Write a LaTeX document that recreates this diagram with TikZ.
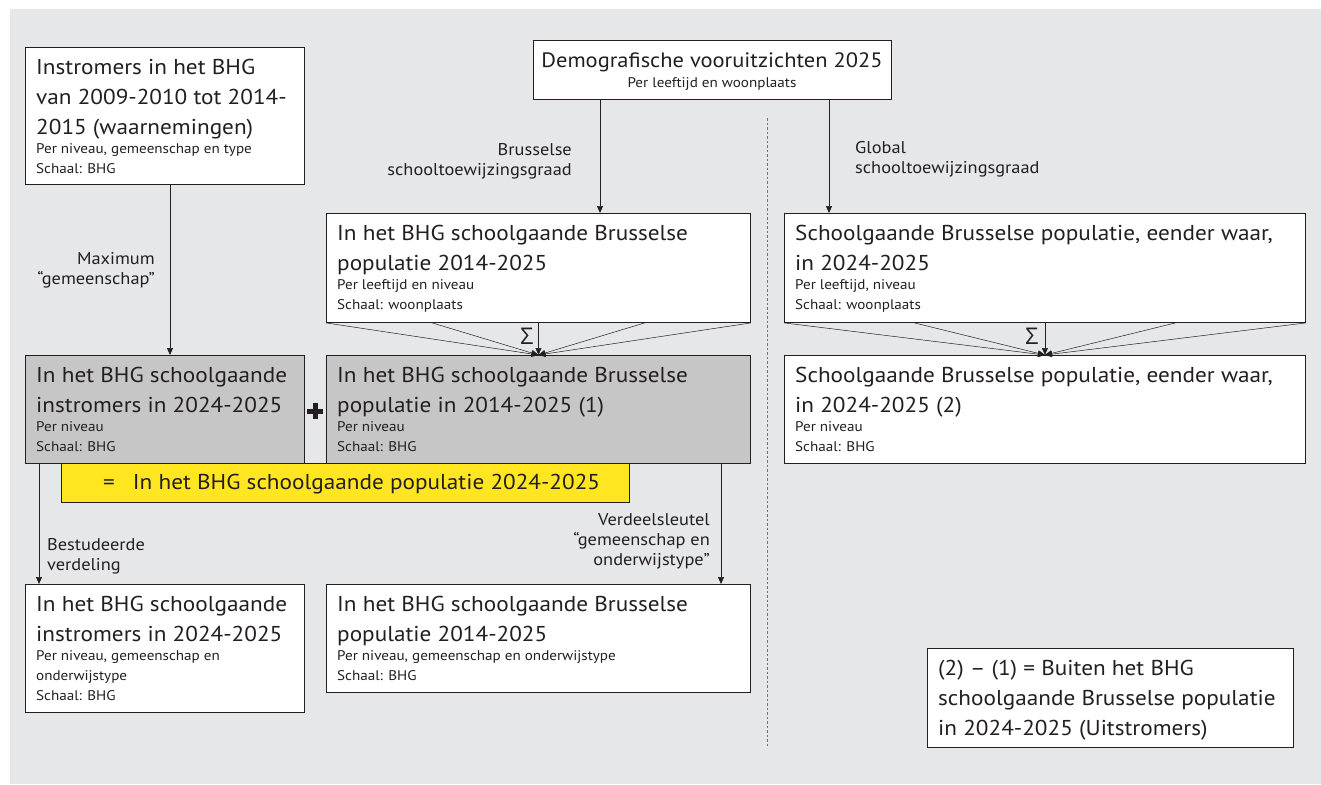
\documentclass[tikz,border=0pt]{standalone}
\usepackage{fontspec}
\setmainfont{PT Sans}[FakeStretch=1.08]
\newfontfamily\sigmafont{Open Sans}
\usetikzlibrary{arrows.meta,calc}
\definecolor{bgc}{HTML}{E6E7E8}
\definecolor{grayc}{HTML}{C6C6C6}
\definecolor{yelc}{HTML}{FFE620}
\definecolor{linec}{HTML}{231F20}
\newcommand\BigT{\fontsize{21.5}{30}\selectfont}
\newcommand\DemoT{\fontsize{20.8}{30}\selectfont}
\newcommand\SmallT{\fontsize{14}{20}\selectfont}
\newcommand\LabT{\fontsize{17}{20}\selectfont}
\begin{document}
\begin{tikzpicture}[x=1pt,y=-1pt,
  box/.style={draw=linec, line width=0.9pt, fill=white, inner sep=0pt, anchor=north west},
  graybox/.style={box, fill=grayc},
  yelbox/.style={box, fill=yelc},
  bigtxt/.style={anchor=north west, inner sep=0pt, align=left, text=linec, font=\BigT},
  smalltxt/.style={anchor=north west, inner sep=0pt, align=left, text=linec, font=\SmallT},
  lab/.style={inner sep=0pt, text=linec, font=\LabT},
  sigma/.style={inner sep=0pt, text=linec, font=\sigmafont\fontsize{23}{26}\selectfont},
  arr/.style={draw=linec, line width=0.7pt, -{Triangle[length=7pt,width=6pt]}},
  sumarr/.style={draw=linec, line width=0.5pt, -{Triangle[length=7pt,width=6pt]}},
  sep/.style={draw=black!55, line width=0.5pt, dash pattern=on 2.5pt off 2pt}
]
\useasboundingbox (0,0) rectangle (1321,784);
\fill[bgc] (10,9) rectangle (1321,784);

% boxes
\node[box, minimum width=279pt, minimum height=137pt] (A) at (25,47) {};
\node[box, minimum width=358pt, minimum height=59pt] (Demo) at (533,40) {};
\node[box, minimum width=424pt, minimum height=109pt] (B) at (326,213) {};
\node[box, minimum width=521pt, minimum height=109pt] (D) at (784,213) {};
\node[graybox, minimum width=279pt, minimum height=108pt] (F) at (25,355) {};
\node[graybox, minimum width=424pt, minimum height=108pt] (C) at (326,355) {};
\node[box, minimum width=521pt, minimum height=108pt] (E) at (784,355) {};
\node[yelbox, minimum width=568pt, minimum height=39pt] (Y) at (61,463) {};
\node[box, minimum width=279pt, minimum height=128pt] (G) at (25,584) {};
\node[box, minimum width=424pt, minimum height=108pt] (H) at (326,584) {};
\node[box, minimum width=366pt, minimum height=99pt] (I) at (927,648) {};

% texts
\node[bigtxt] (tA) at (36,59) {Instromers in het BHG\\van 2009-2010 tot 2014-\\2015 (waarnemingen)};
\node[smalltxt] (tAs) at (36,143.5) {Per niveau, gemeenschap en type\\Schaal: BHG};
\node[inner sep=0pt, anchor=north, text=linec, font=\DemoT] (tDemo) at (712,52) {Demografische vooruitzichten 2025};
\node[inner sep=0pt, anchor=north, text=linec, font=\SmallT] (tDemos) at (712,77) {Per leeftijd en woonplaats};
\node[bigtxt] (tB) at (337,225) {In het BHG schoolgaande Brusselse\\populatie 2014-2025};
\node[smalltxt] (tBs) at (337,279.5) {Per leeftijd en niveau\\Schaal: woonplaats};
\node[bigtxt] (tD) at (795,225) {Schoolgaande Brusselse populatie, eender waar,\\in 2024-2025};
\node[smalltxt] (tDs) at (795,279.5) {Per leeftijd, niveau\\Schaal: woonplaats};
\node[bigtxt] (tF) at (36,367) {In het BHG schoolgaande\\instromers in 2024-2025};
\node[smalltxt] (tFs) at (36,421.5) {Per niveau\\Schaal: BHG};
\node[bigtxt] (tC) at (337,367) {In het BHG schoolgaande Brusselse\\populatie in 2014-2025 (1)};
\node[smalltxt] (tCs) at (337,421.5) {Per niveau\\Schaal: BHG};
\node[bigtxt] (tE) at (795,367) {Schoolgaande Brusselse populatie, eender waar,\\in 2024-2025 (2)};
\node[smalltxt] (tEs) at (795,421.5) {Per niveau\\Schaal: BHG};
\node[bigtxt] (tG) at (36,596) {In het BHG schoolgaande\\instromers in 2024-2025};
\node[smalltxt] (tGs) at (36,650.5) {Per niveau, gemeenschap en\\onderwijstype\\Schaal: BHG};
\node[bigtxt] (tH) at (337,596) {In het BHG schoolgaande Brusselse\\populatie 2014-2025};
\node[smalltxt] (tHs) at (337,650.5) {Per niveau, gemeenschap en onderwijstype\\Schaal: BHG};
\node[bigtxt] (tI) at (938,660) {(2) – (1) = Buiten het BHG\\schoolgaande Brusselse populatie\\in 2024-2025 (Uitstromers)};
\node[anchor=west, inner sep=0pt, text=linec, font=\BigT] (tY) at (103,484) {=\hspace{18pt}In het BHG schoolgaande populatie 2024-2025};

% labels
\node[lab, anchor=north east, align=right] (lBr) at (572,143) {Brusselse\\schooltoewijzingsgraad};
\node[lab, anchor=north west, align=left] (lGl) at (855,141) {Global\\schooltoewijzingsgraad};
\node[lab, anchor=north east, align=right] (lMax) at (155,252) {Maximum\\“gemeenschap”};
\node[lab, anchor=north west, align=left] (lBes) at (47,538) {Bestudeerde\\verdeling};
\node[lab, anchor=north east, align=right] (lVer) at (710,513) {Verdeelsleutel\\“gemeenschap en\\onderwijstype”};
\node[sigma] (s1) at (527,336) {Σ};
\node[sigma] (s2) at (1032,336) {Σ};

% separator
\draw[sep] (767,118) -- (767,748);

% arrows
\draw[arr] ([xshift=67pt]Demo.south west) -- ([xshift=274pt]B.north west);
\draw[arr] ([xshift=296pt]Demo.south west) -- ([xshift=45pt]D.north west);
\draw[arr] ([xshift=145pt]A.south west) -- ([xshift=145pt]F.north west);
\draw[arr] ([xshift=14pt]F.south west) -- ([xshift=14pt]G.north west);
\draw[arr] ([xshift=395pt]C.south west) -- ([xshift=395pt]H.north west);

% sums
\foreach \f in {0,0.25,0.5,0.75,1} {
  \draw[sumarr] ($(B.south west)!\f!(B.south east)$) -- (C.north);
  \draw[sumarr] ($(D.south west)!\f!(D.south east)$) -- (E.north);
}

% plus sign
\fill[linec] (307,408.5) rectangle (323,413.5);
\fill[linec] (312.5,403) rectangle (317.5,419);
\end{tikzpicture}
\end{document}
